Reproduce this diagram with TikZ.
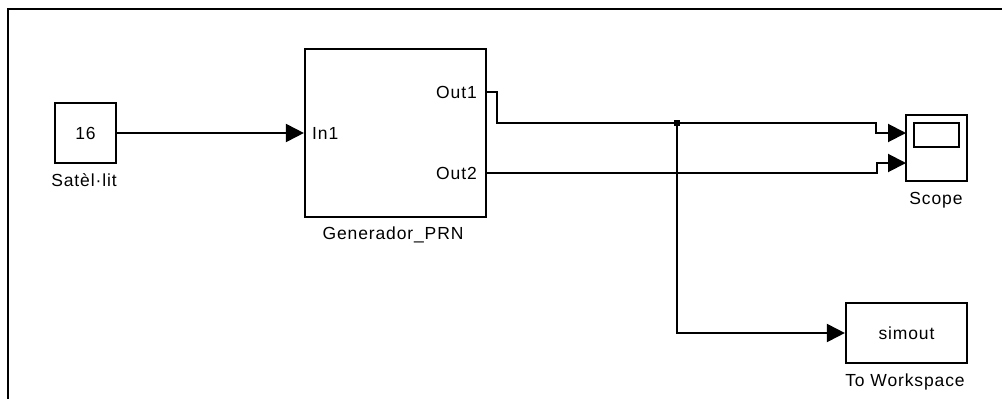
\documentclass[tikz,border=0pt]{standalone}
\usepackage{fontspec}
\setmainfont[LetterSpace=5]{Liberation Sans}
\usepackage{tikz}
\usetikzlibrary{arrows, arrows.meta}
\tikzset{block/.style = {shape = rectangle, draw, line width = 2.2pt, inner sep = 0pt}}
\tikzset{port/.style = {inner sep = 0pt}}
\tikzset{caption/.style = {inner sep = 0pt, anchor = base}}
\tikzset{wire/.style = {line width = 2pt, -{Triangle[length = 18pt, width = 18pt]}}}
\tikzset{dot/.style = {shape = rectangle, fill, inner sep = 0pt, minimum size = 6pt}}

\begin{document}
\begin{tikzpicture}[x = 1pt, y = -1pt, font = \fontsize{17.5}{20}\selectfont]
	\useasboundingbox (0, 0) rectangle (1002, 399);
	\draw[line width = 2.4pt] (8, 399) -- (8, 9) -- (1002, 9);

	\node[block, minimum width = 61pt, minimum height = 60pt] (sat) at (85.5, 133) {16};
	\node[caption] (satlabel) at (84, 186) {Satèl·lit};

	\node[block, minimum width = 181pt, minimum height = 168pt] (gen) at (395.5, 133) {};
	\node[caption] (genlabel) at (393, 239) {Generador\_PRN};
	\node[port, anchor = west] (in1) at (312, 133) {In1};
	\node[port, anchor = east] (out1) at (477, 92) {Out1};
	\node[port, anchor = east] (out2) at (477, 173) {Out2};

	\node[block, minimum width = 61pt, minimum height = 66pt] (scope) at (936.5, 148) {};
	\node[block, minimum width = 45pt, minimum height = 24pt] (screen) at (936.5, 135) {};
	\node[caption] (scopelabel) at (936, 204) {Scope};
	\coordinate (scopein1) at (906, 133);
	\coordinate (scopein2) at (906, 163);

	\node[block, minimum width = 121pt, minimum height = 60pt] (ws) at (906.5, 333) {simout};
	\node[caption] (wslabel) at (905, 386) {To Workspace};

	\coordinate (split) at (677, 123);

	\draw[wire] (sat) -- (gen);
	\draw[line width = 2pt] (gen.east |- out1) -- ++(10, 0) |- (split);
	\draw[wire] (split) -- ++(199, 0) |- (scopein1);
	\draw[wire] (gen.east |- out2) -- ++(390, 0) |- (scopein2);
	\draw[wire] (split) |- (ws.west);
	\node[dot] (branch) at (split) {};
\end{tikzpicture}
\end{document}
